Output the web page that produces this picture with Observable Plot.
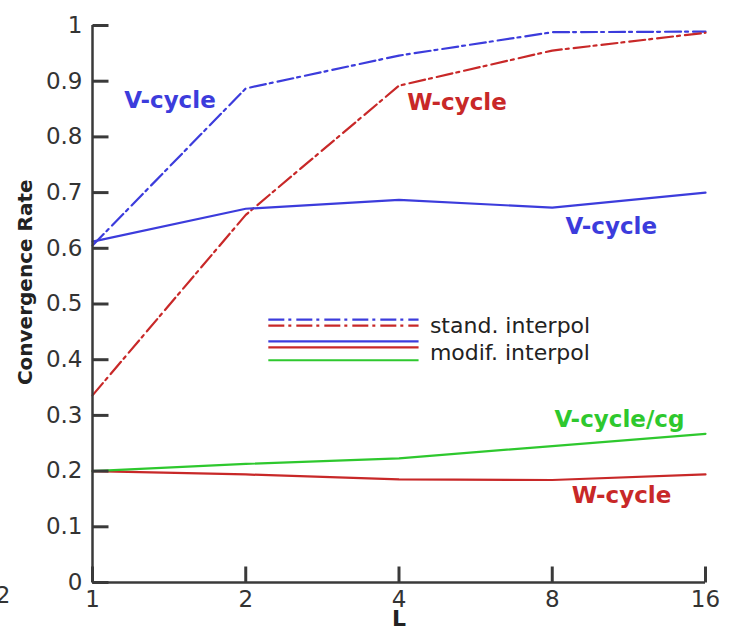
<!DOCTYPE html>
<html><head><meta charset="utf-8">
<script src="https://cdn.jsdelivr.net/npm/d3@7"></script>
<script src="https://cdn.jsdelivr.net/npm/@observablehq/plot@0.6"></script>
<style>body{margin:0;background:#fff} svg{overflow:visible}</style>
</head><body><div id="chart"></div>
<script>
// ---- data ----
const L = [1, 2, 4, 8, 16];
const vStand = [0.605, 0.887, 0.946, 0.988, 0.989];
const wStand = [0.336, 0.660, 0.892, 0.955, 0.987];
const vModif = [0.612, 0.671, 0.687, 0.673, 0.700];
const wModif = [0.200, 0.194, 0.185, 0.184, 0.194];
const vcgModif = [0.200, 0.213, 0.223, 0.245, 0.267];
const xTicks = [1, 2, 4, 8, 16];
const yTicks = [0, 0.1, 0.2, 0.3, 0.4, 0.5, 0.6, 0.7, 0.8, 0.9, 1];
const legendTexts = ["stand. interpol", "modif. interpol"];

// ---- styles / layout ----
const W = 735, H = 626, ML = 92, MR = 30, MT = 25, MB = 44, TICK = 16;
const plotW = W - ML - MR, plotH = H - MT - MB;
const BLUE = "#3c3cdc", RED = "#c82828", GREEN = "#2ec82e", AXIS = "#3a3a3a";
const DASHDOT = "16,4,3,5";
const series = [
  {vals: vStand, color: BLUE, dash: DASHDOT},
  {vals: wStand, color: RED, dash: DASHDOT},
  {vals: vModif, color: BLUE, dash: null},
  {vals: wModif, color: RED, dash: null},
  {vals: vcgModif, color: GREEN, dash: null}
];
const annotations = [
  {x: 1.42, y: 0.865, text: "V-cycle", color: BLUE},
  {x: 5.2, y: 0.862, text: "W-cycle", color: RED},
  {x: 10.45, y: 0.639, text: "V-cycle", color: BLUE},
  {x: 10.84, y: 0.293, text: "V-cycle/cg", color: GREEN},
  {x: 10.94, y: 0.156, text: "W-cycle", color: RED}
];
const legendLines = [
  {y: 0.472, color: BLUE, dash: DASHDOT},
  {y: 0.461, color: RED, dash: DASHDOT},
  {y: 0.433, color: BLUE, dash: null},
  {y: 0.422, color: RED, dash: null},
  {y: 0.399, color: GREEN, dash: null}
];
const legendX1 = 2.22, legendX2 = 4.38, legendTextX = 4.6;
const legendTextY = [0.461, 0.413];
const yTitlePos = {x: 0.738, y: 0.539};
const strayPos = {x: 0.69, y: -0.024};

const xTickEnd = Math.pow(2, TICK / (plotW / 4));
const yTickEnd = TICK / plotH;

const marks = [];
series.forEach(s => {
  const rows = L.map((l, i) => ({L: l, v: s.vals[i]}));
  marks.push(Plot.line(rows, {x: "L", y: "v", stroke: s.color, strokeWidth: 2.2,
    strokeDasharray: s.dash || undefined}));
});
legendLines.forEach(r => {
  marks.push(Plot.ruleY([r.y], {x1: legendX1, x2: legendX2, stroke: r.color, strokeWidth: 2.2,
    strokeDasharray: r.dash || undefined}));
});
marks.push(Plot.text(legendTexts.map((t, i) => ({t, y: legendTextY[i]})),
  {x: () => legendTextX, y: "y", text: "t", textAnchor: "start", fontSize: 22, fill: "#222"}));
marks.push(Plot.text(annotations, {x: "x", y: "y", text: "text", fill: "color",
  fontWeight: "bold", fontSize: 23}));

// inward ticks as links from the axis to a point TICK px inside
marks.push(Plot.link(yTicks, {x1: () => 1, x2: () => xTickEnd, y1: d => d, y2: d => d,
  stroke: AXIS, strokeWidth: 3}));
marks.push(Plot.link(xTicks, {x1: d => d, x2: d => d, y1: () => 0, y2: () => yTickEnd,
  stroke: AXIS, strokeWidth: 3}));

marks.push(Plot.axisY(yTicks, {anchor: "left", tickSize: 0, tickPadding: 10, fontSize: 23,
  fill: "#333", tickFormat: d => String(+d.toFixed(1)), label: null}));
marks.push(Plot.axisX(xTicks, {anchor: "bottom", tickSize: 0, tickPadding: 8, fontSize: 23,
  fill: "#333", tickFormat: d => String(d), label: null}));
marks.push(Plot.ruleX([1], {stroke: AXIS, strokeWidth: 2.5}));
marks.push(Plot.ruleY([0], {stroke: AXIS, strokeWidth: 2.5}));
marks.push(Plot.text(["Convergence Rate"], {x: () => yTitlePos.x, y: () => yTitlePos.y, rotate: -90,
  fontWeight: "bold", fontSize: 20, fill: "#222"}));
marks.push(Plot.text(["L"], {frameAnchor: "bottom", dy: 28, lineAnchor: "top",
  fontWeight: "bold", fontSize: 22, fill: "#222"}));
marks.push(Plot.text(["2"], {x: () => strayPos.x, y: () => strayPos.y, textAnchor: "end",
  fontSize: 23, fill: "#333"}));

const chart = Plot.plot({
  width: W, height: H,
  marginLeft: ML, marginRight: MR, marginTop: MT, marginBottom: MB,
  style: {fontFamily: "DejaVu Sans", background: "white", overflow: "visible"},
  x: {type: "log", base: 2, domain: [1, 16]},
  y: {domain: [0, 1]},
  marks
});
document.getElementById("chart").appendChild(chart);
</script></body></html>
